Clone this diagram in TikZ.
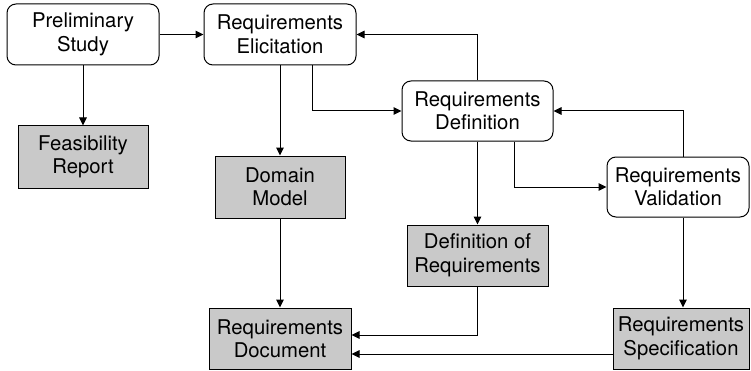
\documentclass[tikz,border=0pt]{standalone}
\usepackage{fontspec}
\setmainfont{TeX Gyre Heros}
\usetikzlibrary{arrows.meta,calc}
\tikzset{
  box/.style={draw, line width=1pt, align=center, inner sep=0pt, font=\fontsize{20.3}{23.5}\selectfont},
  proc/.style={box, rounded corners=9pt, fill=white},
  doc/.style={box, fill=black!21},
  conn/.style={line width=1pt, -{Triangle[length=8pt,width=7.5pt]}}
}
\begin{document}
\begin{tikzpicture}[x=1pt,y=1pt]
\useasboundingbox (0,0) rectangle (751,370);
\node[proc, minimum width=152pt, minimum height=61pt] (ps) at (83,335.5) {Preliminary\\Study};
\node[proc, minimum width=152pt, minimum height=61pt] (re) at (280,335.5) {Requirements\\Elicitation};
\node[doc, minimum width=130pt, minimum height=62pt] (fr) at (83,213) {Feasibility\\Report};
\node[doc, minimum width=130pt, minimum height=62pt] (dm) at (280,183) {Domain\\Model};
\node[proc, minimum width=151pt, minimum height=60pt] (rd) at (477.5,259) {Requirements\\Definition};
\node[proc, minimum width=142pt, minimum height=60pt] (rv) at (678,183) {Requirements\\Validation};
\node[doc, minimum width=141pt, minimum height=61pt] (dr) at (477.5,114.5) {Definition of\\Requirements};
\node[doc, minimum width=142pt, minimum height=61pt] (doc) at (280,31.5) {Requirements\\Document};
\node[doc, minimum width=136pt, minimum height=61pt] (rs) at (681,31.5) {Requirements\\Specification};

\draw[conn] (ps.east) -- (re.west);
\draw[conn] (ps.south) -- (fr.north);
\draw[conn] (re.south) -- (dm.north);
\draw[conn] ([xshift=32pt]re.south) |- (rd.west);
\draw[conn] (rd.north) |- (re.east);
\draw[conn] (rd.south) -- (dr.north);
\draw[conn] ([xshift=37pt]rd.south) |- (rv.west);
\draw[conn] ([xshift=5pt]rv.north) |- (rd.east);
\draw[conn] ([xshift=5pt]rv.south) -- ([xshift=5pt]rv.south |- rs.north);
\draw[conn] (dm.south) -- (doc.north);
\draw[conn] (dr.south) |- ([yshift=3.5pt]doc.east);
\draw[conn] ([yshift=-15.5pt]rs.west) -- ([yshift=-15.5pt]doc.east);
\end{tikzpicture}
\end{document}
